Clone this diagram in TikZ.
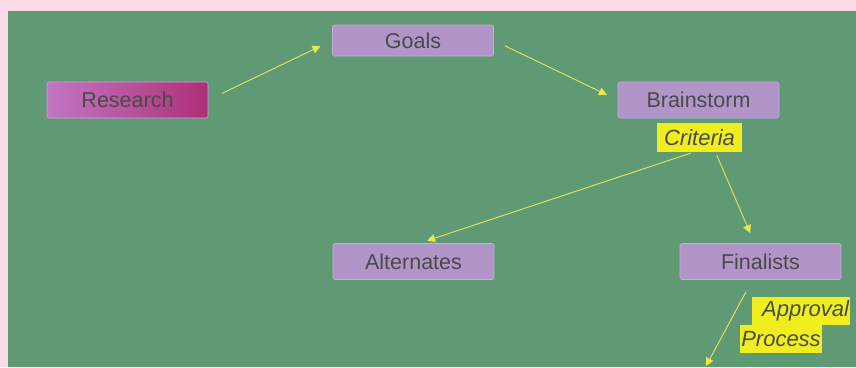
\documentclass[tikz,border=0pt]{standalone}
\usepackage{fontspec}
\setmainfont{Liberation Sans}
\usepackage{tikz}
\usetikzlibrary{arrows.meta,positioning}
\definecolor{pinkbg}{HTML}{FCDDE7}
\definecolor{greenbg}{HTML}{5F9A75}
\definecolor{lilac}{HTML}{B194C8}
\definecolor{lilacedge}{HTML}{C4AEDA}
\definecolor{magentaL}{HTML}{C276C2}
\definecolor{magentaR}{HTML}{AE2F78}
\definecolor{marker}{HTML}{F0EE1E}
\definecolor{arrowyellow}{HTML}{E6E65A}
\definecolor{ink}{HTML}{4A4A4A}

\begin{document}
\begin{tikzpicture}[
  x=1pt, y=-1pt,
  font=\fontsize{21.5}{24}\selectfont,
  box/.style={rounded corners=2pt, draw=lilacedge, line width=0.6pt, fill=lilac, text=ink,
    minimum width=161pt, minimum height=36pt, inner sep=0pt},
  startbox/.style={box, draw=magentaL!70!white, left color=magentaL, right color=magentaR},
  tag/.style={fill=marker, text=ink, font=\fontsize{22}{24}\selectfont\itshape, inner sep=1pt},
  arrow/.style={-{Triangle[length=8pt,width=8pt,fill=marker]}, draw=arrowyellow, line width=0.9pt}
]
% background
\useasboundingbox (0,0) rectangle (856,367);
\fill[pinkbg] (0,0) rectangle (856,367);
\fill[greenbg] (8,11) rectangle (856,367);

% stages
\node[box, minimum height=31pt] (goals) at (413,40.5) {Goals};
\node[startbox] (research) at (127.5,100) {Research};
\node[box] (brain) at (698.5,100) {Brainstorm};
\node[tag, minimum width=85pt, minimum height=29pt] (crit) at (699.5,137.5) {Criteria};
\node[box] (alt) at (413.5,261.5) {Alternates};
\node[box] (fin) at (760.5,261.5) {Finalists};

% approval label, two highlighted lines
\node[tag, minimum height=28pt, minimum width=98pt, text width=96pt, align=right] (appr) at (801,311) {Approval};
\node[tag, minimum height=28pt, minimum width=82pt] (proc) at (781,339) {Process};
\coordinate (next) at (706,366);

% flow
\draw[arrow, shorten <=15pt, shorten >=13pt] (research.east) -- (goals.west);
\draw[arrow, shorten <=12pt, shorten >=12pt] (goals.east) -- (brain.west);
\draw[arrow, shorten <=3pt, shorten >=8pt] ([xshift=-6pt]crit.south) -- ([xshift=6pt]alt.north);
\draw[arrow, shorten <=3pt, shorten >=11pt] ([xshift=16pt]crit.south) -- ([xshift=-6pt]fin.north);
\draw[arrow, shorten <=14pt] ([xshift=-8pt]fin.south) -- (next);

\end{tikzpicture}
\end{document}
